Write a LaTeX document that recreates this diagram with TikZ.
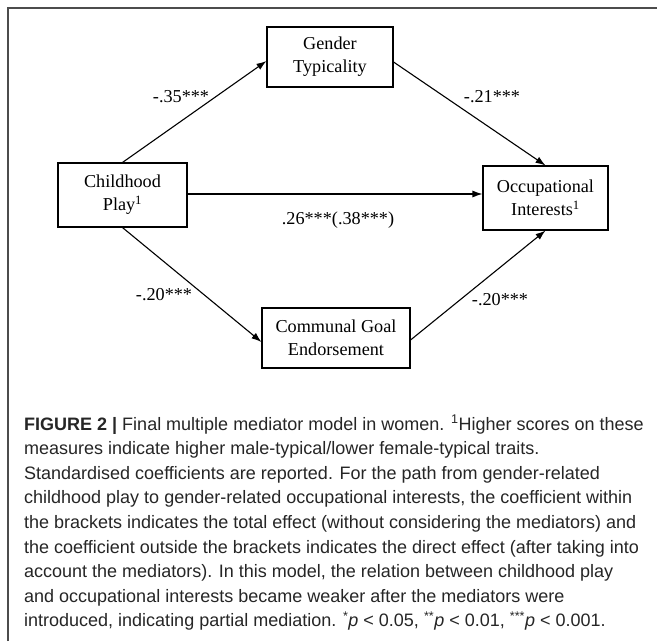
\documentclass[tikz,border=0pt]{standalone}
\usepackage{fontspec}
\setmainfont{Liberation Serif}
\newfontfamily\capfont{Liberation Sans}
\usetikzlibrary{arrows.meta,calc}
\begin{document}
\begin{tikzpicture}[x=1pt,y=-1pt,
  box/.style={draw,line width=1.1pt,align=center,inner sep=0pt,font=\fontsize{18.2}{23}\selectfont},
  arr/.style={line width=1.1pt,-{Latex[length=10pt,width=7pt]}},
  lab/.style={font=\fontsize{18.2}{22}\selectfont,inner sep=0pt},
  captext/.style={font=\capfont\fontsize{18}{24.6}\selectfont,inner sep=0pt,align=left,text=black!85}]
\useasboundingbox (0,0) rectangle (657,641);
\fill[white] (0,0) rectangle (657,641);
\draw[line width=1.2pt,color=black!70] (8,641) -- (8,8) -- (657,8);

\node[box,minimum width=126pt,minimum height=60pt] (GT) at (330,57) {Gender\\Typicality};
\node[box,minimum width=129pt,minimum height=64pt] (CP) at (122.5,195) {Childhood\\Play\textsuperscript{1}};
\node[box,minimum width=125pt,minimum height=64pt] (OI) at (545.5,198) {Occupational\\Interests\textsuperscript{1}};
\node[box,minimum width=148pt,minimum height=60pt] (CGE) at (336,338) {Communal Goal\\Endorsement};

\draw[arr] (CP.north) -- ([yshift=-4pt]GT.west);
\draw[arr] ([yshift=-5pt]GT.east) -- (OI.north);
\draw[arr] ([yshift=1pt]CP.east) -- ([yshift=1pt]CP.east -| OI.west);
\draw[arr] (CP.south) -- ([yshift=-4pt]CGE.west);
\draw[arr] ([yshift=-2pt]CGE.east) -- (OI.south);

\node[lab] (l1) at (181,97) {-.35***};
\node[lab] (l2) at (492,97) {-.21***};
\node[lab] (l3) at (338,220) {.26***(.38***)};
\node[lab] (l4) at (164,295) {-.20***};
\node[lab] (l5) at (500,300) {-.20***};

\node[captext,anchor=north west] (caption) at (24,415) {\textbf{FIGURE 2 |} Final multiple mediator model in women. \textsuperscript{1}Higher scores on these\\
measures indicate higher male-typical/lower female-typical traits.\\
Standardised coefficients are reported. For the path from gender-related\\
childhood play to gender-related occupational interests, the coefficient within\\
the brackets indicates the total effect (without considering the mediators) and\\
the coefficient outside the brackets indicates the direct effect (after taking into\\
account the mediators). In this model, the relation between childhood play\\
and occupational interests became weaker after the mediators were\\
introduced, indicating partial mediation. \textsuperscript{*}\textit{p} < 0.05, \textsuperscript{**}\textit{p} < 0.01, \textsuperscript{***}\textit{p} < 0.001.};
\end{tikzpicture}
\end{document}
